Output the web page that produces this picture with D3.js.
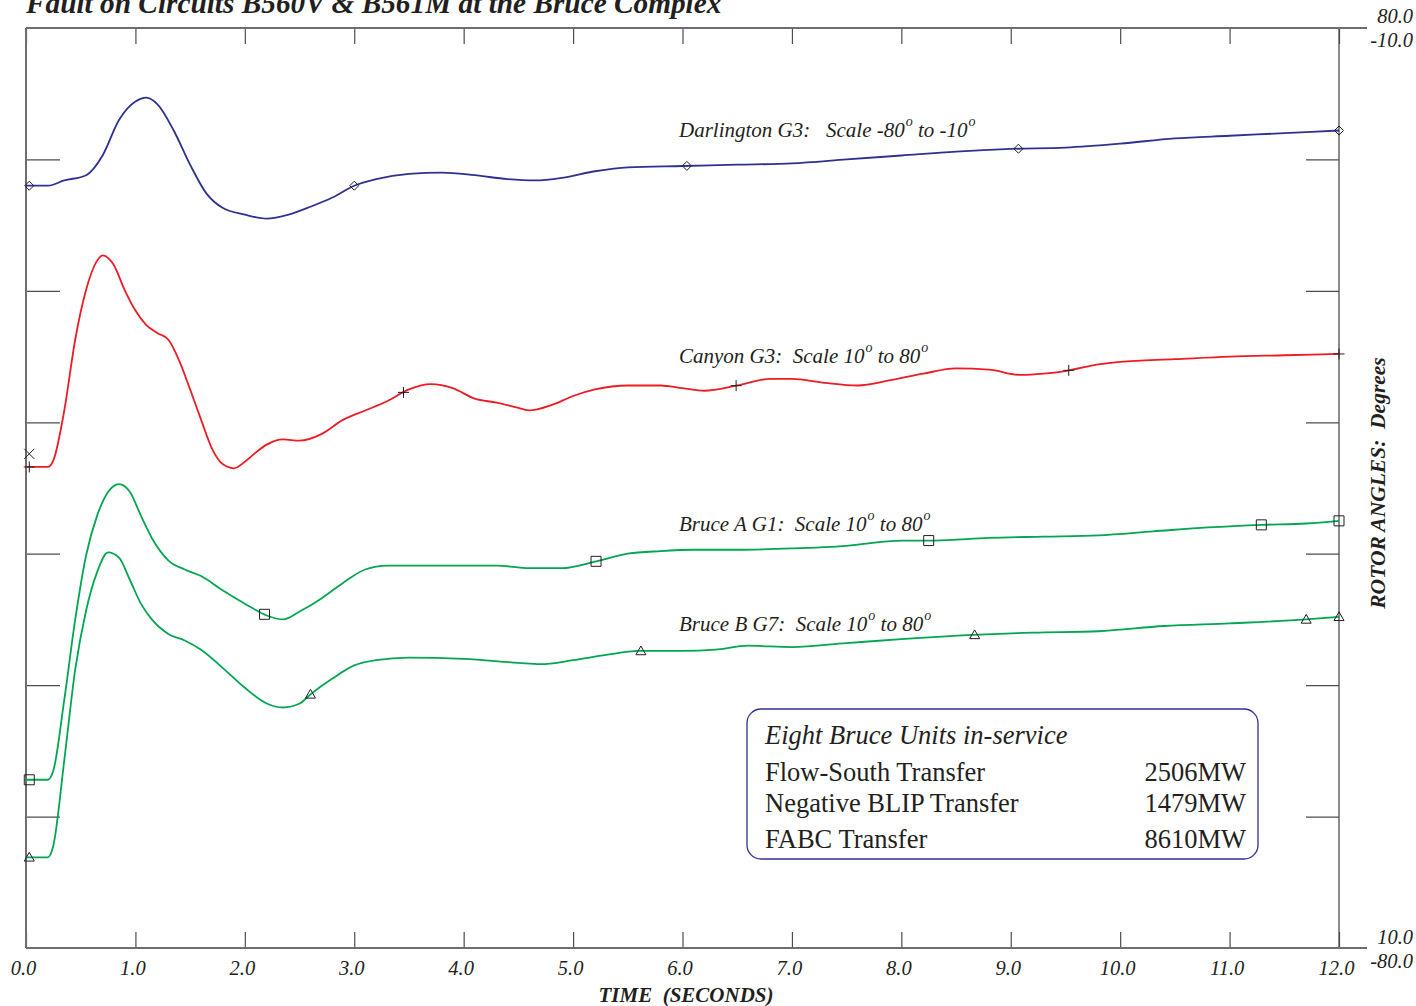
<!DOCTYPE html>
<html>
<head>
<meta charset="utf-8">
<script src="https://cdn.jsdelivr.net/npm/d3@7"></script>
<style>
  body { margin: 0; background: #ffffff; }
  svg text { font-family: "Liberation Serif", "Times New Roman", serif; fill: #231f20; white-space: pre; }
</style>
</head>
<body>
<div id="chart"></div>
<script>
// data (time in seconds, rotor angle in degrees)
const timeDar = [0,0.2,0.35,0.55,0.7,0.85,1.0,1.1,1.2,1.35,1.5,1.65,1.8,2.0,2.2,2.4,2.6,2.8,3.0,3.2,3.5,3.8,4.1,4.4,4.65,4.9,5.2,5.5,6.0,6.5,7.0,7.5,8.0,8.5,9.0,9.5,10.0,10.5,11.0,11.5,12.0];
const angDar = [-22.0,-22.0,-21.6,-21.2,-19.7,-17.0,-15.6,-15.3,-15.8,-17.8,-20.4,-22.6,-23.7,-24.2,-24.5,-24.2,-23.6,-22.9,-22.0,-21.5,-21.1,-21.0,-21.2,-21.5,-21.6,-21.4,-20.9,-20.6,-20.5,-20.4,-20.3,-20.0,-19.7,-19.4,-19.2,-19.1,-18.8,-18.4,-18.2,-18.0,-17.8];

const timeCan = [0,0.2,0.25,0.35,0.45,0.55,0.65,0.7,0.8,0.9,1.0,1.1,1.2,1.3,1.4,1.5,1.6,1.7,1.8,1.9,2.0,2.1,2.2,2.35,2.5,2.7,2.9,3.1,3.3,3.5,3.7,3.9,4.1,4.3,4.5,4.6,4.8,5.0,5.2,5.5,5.8,6.0,6.2,6.5,6.8,7.0,7.3,7.6,7.9,8.2,8.5,8.8,9.1,9.3,9.5,9.8,10.0,10.5,11.0,11.5,12.0];
const angCan = [46.6,46.6,47.1,50.9,56.3,60.1,62.3,62.7,62.0,60.1,58.5,57.4,56.8,56.3,54.7,52.5,50.2,48.0,46.8,46.5,47.0,47.7,48.3,48.7,48.6,49.1,50.2,50.9,51.6,52.5,52.9,52.6,51.8,51.5,51.1,50.9,51.3,52.0,52.5,52.8,52.8,52.6,52.4,52.8,53.3,53.3,53.0,52.8,53.2,53.7,54.1,54.0,53.6,53.7,53.9,54.4,54.6,54.8,55.0,55.1,55.2];

const timeBA = [0,0.2,0.25,0.35,0.45,0.55,0.65,0.75,0.85,0.95,1.05,1.15,1.3,1.45,1.6,1.8,2.0,2.2,2.35,2.5,2.7,2.9,3.1,3.3,3.6,4.0,4.3,4.6,4.9,5.2,5.5,5.8,6.1,6.5,7.0,7.5,8.0,8.3,8.8,9.3,9.8,10.3,10.8,11.3,11.7,12.0];
const angBA = [22.8,22.8,23.5,28.9,35.0,39.9,42.9,44.7,45.3,44.7,42.9,41.2,39.5,38.8,38.3,37.2,36.2,35.3,35.0,35.6,36.6,37.8,38.8,39.1,39.1,39.1,39.1,38.9,38.9,39.4,40.0,40.2,40.3,40.3,40.4,40.6,41.0,41.0,41.2,41.3,41.4,41.7,42.0,42.2,42.3,42.5];

const timeBB = [0,0.2,0.25,0.35,0.45,0.55,0.65,0.75,0.85,0.95,1.05,1.15,1.3,1.45,1.6,1.8,2.0,2.2,2.35,2.5,2.6,2.8,3.0,3.2,3.5,4.0,4.5,4.7,5.0,5.3,5.6,6.0,6.3,6.6,7.0,7.5,8.0,8.6,9.2,9.8,10.4,11.0,11.7,12.0];
const angBB = [16.9,16.9,17.8,24.3,31.2,35.7,38.6,40.1,39.7,38.0,36.2,35.0,33.9,33.4,32.7,31.3,29.8,28.6,28.3,28.6,29.3,30.5,31.5,31.9,32.1,32.0,31.7,31.6,31.9,32.3,32.6,32.6,32.7,33.0,32.9,33.2,33.5,33.8,34.0,34.1,34.5,34.7,35.0,35.2];

// marker times along each trace
const markDar = [0.03, 3.0, 6.04, 9.07, 12.0];
const markCan = [0.03, 3.45, 6.49, 9.53, 12.0];
const markBA = [0.03, 2.18, 5.21, 8.25, 11.29, 12.0];
const markBB = [0.03, 2.6, 5.62, 8.67, 11.7, 12.0];
const crossT = [0.03], crossV = [47.6];

const xTicks = [0,1,2,3,4,5,6,7,8,9,10,11,12];
const yInnerTicks = [20,30,40,50,60,70];

const infoTitle = 'Eight Bruce Units in-service';
const infoLabels = ['Flow-South Transfer', 'Negative BLIP Transfer', 'FABC Transfer'];
const infoValues = ['2506MW', '1479MW', '8610MW'];

const width = 1416, height = 1006;
const margin = {top: 28, right: 77, bottom: 58, left: 26};
const axisCol = '#4d4d4f';

// plain hyphen minus like the original
const fmt = d3.formatLocale({decimal: '.', thousands: ',', grouping: [3], currency: ['', ''], minus: '-'}).format('.1f');

let svg = d3.select('#chart')
            .append('svg')
            .attr('width', width)
            .attr('height', height);

let x = d3.scaleLinear()
          .domain([0, 12])
          .range([margin.left, width - margin.right]);

// two vertical scales share the frame
let yB = d3.scaleLinear()
           .domain([10, 80])
           .range([height - margin.bottom, margin.top]);

let yD = d3.scaleLinear()
           .domain([-80, -10])
           .range([height - margin.bottom, margin.top]);

const x0 = x.range()[0], x1 = x.range()[1];
const yTop = yB.range()[1], yBot = yB.range()[0];

// title (cut off at the top like the original)
svg.append('text')
   .attr('x', x0)
   .attr('y', 13)
   .style('font-size', '29.3px')
   .style('font-weight', 'bold')
   .style('font-style', 'italic')
   .text('Fault on Circuits B560V & B561M at the Bruce Complex');

// x axes
let xAxisBottom = d3.axisBottom(x)
                    .tickValues(xTicks)
                    .tickSizeInner(-16)
                    .tickSizeOuter(0)
                    .tickPadding(12)
                    .tickFormat(fmt);

let gxb = svg.append('g')
             .attr('transform', `translate(0, ${yBot})`)
             .call(xAxisBottom);
gxb.select('.domain').remove();
gxb.selectAll('.tick line').attr('stroke', axisCol).attr('stroke-width', 1.2);
gxb.selectAll('.tick text')
   .attr('dy', '0.71em')
   .attr('dx', -3)
   .style('font-size', '20.5px')
   .style('font-style', 'italic')
   .style('font-family', '"Liberation Serif", serif')
   .style('fill', '#231f20');

let xAxisTop = d3.axisTop(x)
                 .tickValues(xTicks)
                 .tickSizeInner(-16)
                 .tickSizeOuter(0)
                 .tickFormat('');

let gxt = svg.append('g')
             .attr('transform', `translate(0, ${yTop})`)
             .call(xAxisTop);
gxt.select('.domain').remove();
gxt.selectAll('.tick line').attr('stroke', axisCol).attr('stroke-width', 1.2);

// y ticks on both sides, pointing inward
let yAxisLeft = d3.axisRight(yB)
                  .tickValues(yInnerTicks)
                  .tickSizeInner(34)
                  .tickSizeOuter(0)
                  .tickFormat('');

let gyl = svg.append('g')
             .attr('transform', `translate(${x0}, 0)`)
             .call(yAxisLeft);
gyl.select('.domain').remove();
gyl.selectAll('.tick line').attr('stroke', axisCol).attr('stroke-width', 1.2);

let yAxisRight = d3.axisLeft(yB)
                   .tickValues(yInnerTicks)
                   .tickSizeInner(33)
                   .tickSizeOuter(0)
                   .tickFormat('');

let gyr = svg.append('g')
             .attr('transform', `translate(${x1}, 0)`)
             .call(yAxisRight);
gyr.select('.domain').remove();
gyr.selectAll('.tick line').attr('stroke', axisCol).attr('stroke-width', 1.2);

// frame
svg.append('line').attr('x1', x0).attr('x2', x0).attr('y1', yTop).attr('y2', yBot)
   .attr('stroke', '#6d6e71').attr('stroke-width', 2);
svg.append('line').attr('x1', x1).attr('x2', x1).attr('y1', yTop).attr('y2', yBot)
   .attr('stroke', axisCol).attr('stroke-width', 1.3);
svg.append('line').attr('x1', x0).attr('x2', x1 + 28).attr('y1', yTop).attr('y2', yTop)
   .attr('stroke', '#6d6e71').attr('stroke-width', 2);
svg.append('line').attr('x1', x0).attr('x2', x1 + 28).attr('y1', yBot).attr('y2', yBot)
   .attr('stroke', '#6d6e71').attr('stroke-width', 2);

// scale end labels on the right
const rightLabels = [
  {t: fmt(yB.domain()[1]), y: yB(yB.domain()[1]) - 5},
  {t: fmt(yD.domain()[1]), y: yD(yD.domain()[1]) + 19},
  {t: fmt(yB.domain()[0]), y: yB(yB.domain()[0]) - 4},
  {t: fmt(yD.domain()[0]), y: yD(yD.domain()[0]) + 20}
];
svg.selectAll('text.rlab')
   .data(rightLabels)
   .enter()
   .append('text')
   .attr('class', 'rlab')
   .attr('x', width - 3)
   .attr('y', d => d.y)
   .style('text-anchor', 'end')
   .style('font-size', '20.5px')
   .style('font-style', 'italic')
   .text(d => d.t);

// axis titles
svg.append('text')
   .attr('x', 686)
   .attr('y', 1002)
   .style('text-anchor', 'middle')
   .style('font-size', '21px')
   .style('font-weight', 'bold')
   .style('font-style', 'italic')
   .text('TIME  (SECONDS)');

svg.append('text')
   .attr('transform', `translate(1385, 483) rotate(-90)`)
   .style('text-anchor', 'middle')
   .style('font-size', '21.5px')
   .style('font-weight', 'bold')
   .style('font-style', 'italic')
   .text('ROTOR ANGLES:  Degrees');

// traces
function valueAt(ts, vs, t) {
  let i = d3.bisectLeft(ts, t);
  if (i <= 0) return vs[0];
  if (i >= ts.length) return vs[vs.length - 1];
  let a = (t - ts[i - 1]) / (ts[i] - ts[i - 1]);
  return vs[i - 1] + a * (vs[i] - vs[i - 1]);
}

const sym = {
  diamond: {draw(p, s) { p.moveTo(0, -s); p.lineTo(s, 0); p.lineTo(0, s); p.lineTo(-s, 0); p.closePath(); }},
  square: {draw(p, s) { p.moveTo(-s, -s); p.lineTo(s, -s); p.lineTo(s, s); p.lineTo(-s, s); p.closePath(); }},
  triangle: {draw(p, s) { p.moveTo(0, -s); p.lineTo(s, s * 0.75); p.lineTo(-s, s * 0.75); p.closePath(); }},
  plus: {draw(p, s) { p.moveTo(-s, 0); p.lineTo(s, 0); p.moveTo(0, -s); p.lineTo(0, s); }},
  times: {draw(p, s) { p.moveTo(-s, -s); p.lineTo(s, s); p.moveTo(s, -s); p.lineTo(-s, s); }}
};

const series = [
  {ts: timeDar, vs: angDar, y: yD, colour: '#2e3192', marks: markDar, sym: sym.diamond, size: 4.5},
  {ts: timeCan, vs: angCan, y: yB, colour: '#ed1c24', marks: markCan, sym: sym.plus, size: 5.5},
  {ts: timeBA, vs: angBA, y: yB, colour: '#00a651', marks: markBA, sym: sym.square, size: 5},
  {ts: timeBB, vs: angBB, y: yB, colour: '#00a651', marks: markBB, sym: sym.triangle, size: 5}
];

series.forEach(s => {
  let line = d3.line()
               .x((d, i) => x(s.ts[i]))
               .y(d => s.y(d))
               .curve(d3.curveMonotoneX);

  svg.append('path')
     .datum(s.vs)
     .attr('fill', 'none')
     .attr('stroke', s.colour)
     .attr('stroke-width', 1.8)
     .attr('d', line);

  svg.selectAll(null)
     .data(s.marks)
     .enter()
     .append('path')
     .attr('transform', t => `translate(${x(t)}, ${s.y(valueAt(s.ts, s.vs, t))})`)
     .attr('d', d3.symbol().type(s.sym).size(s.size))
     .attr('fill', 'none')
     .attr('stroke', '#231f20')
     .attr('stroke-width', 1);
});

svg.selectAll(null)
   .data(crossT)
   .enter()
   .append('path')
   .attr('transform', (t, i) => `translate(${x(t)}, ${yB(crossV[i])})`)
   .attr('d', d3.symbol().type(sym.times).size(5))
   .attr('fill', 'none')
   .attr('stroke', '#231f20')
   .attr('stroke-width', 1);

// trace labels with degree superscripts
const traceLabels = [
  {y: 137, parts: ['Darlington G3:   Scale -80', ' to -10']},
  {y: 363, parts: ['Canyon G3:  Scale 10', ' to 80']},
  {y: 531, parts: ['Bruce A G1:  Scale 10', ' to 80']},
  {y: 631, parts: ['Bruce B G7:  Scale 10', ' to 80']}
];

traceLabels.forEach(l => {
  let t = svg.append('text')
             .attr('x', 679)
             .attr('y', l.y)
             .style('font-size', '21px')
             .style('font-style', 'italic');
  l.parts.forEach((p, i) => {
    t.append('tspan').attr('dy', i == 0 ? 0 : 11).text(p);
    t.append('tspan').attr('dy', -11).attr('dx', 1).style('font-size', '14px').text('o');
  });
});

// info box
const rowY = [72, 103, 139];
let box = svg.append('g').attr('transform', 'translate(747, 709)');
box.append('rect')
   .attr('width', 511)
   .attr('height', 150)
   .attr('rx', 14)
   .attr('fill', '#ffffff')
   .attr('stroke', '#2e3192')
   .attr('stroke-width', 1.3);

box.append('text')
   .attr('x', 18)
   .attr('y', 35)
   .style('font-size', '26.5px')
   .style('font-style', 'italic')
   .text(infoTitle);

box.selectAll('text.ilab')
   .data(infoLabels)
   .enter()
   .append('text')
   .attr('class', 'ilab')
   .attr('x', 18)
   .attr('y', (d, i) => rowY[i])
   .style('font-size', '26.5px')
   .text(d => d);

box.selectAll('text.ival')
   .data(infoValues)
   .enter()
   .append('text')
   .attr('class', 'ival')
   .attr('x', 499)
   .attr('y', (d, i) => rowY[i])
   .style('text-anchor', 'end')
   .style('font-size', '26.5px')
   .text(d => d);
</script>
</body>
</html>
